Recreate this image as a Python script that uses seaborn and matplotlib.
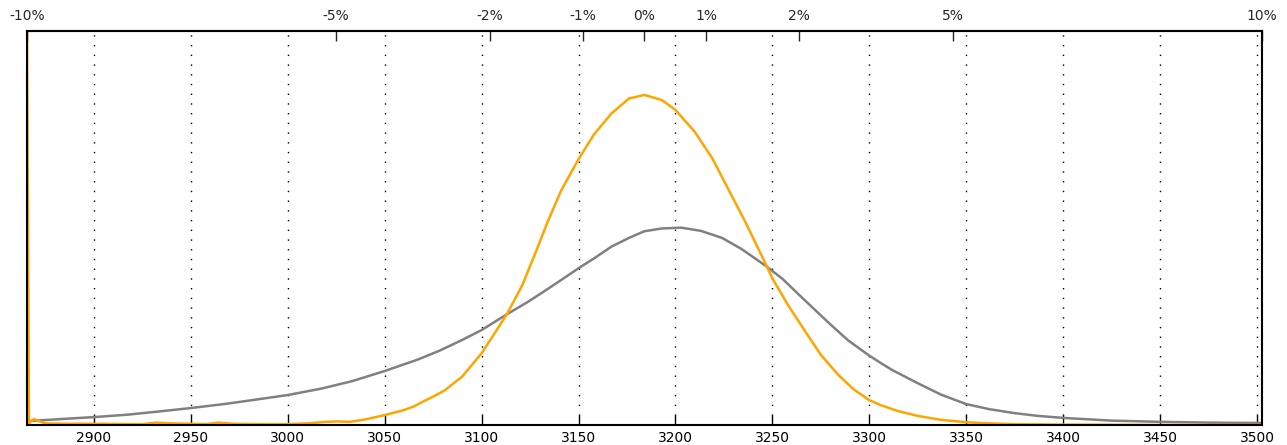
"""Density curves around a reference value, with a % offset axis on top."""
import matplotlib

matplotlib.use("Agg")
import matplotlib.pyplot as plt
import seaborn as sns

sns.set_style("ticks")
plt.rcParams["font.family"] = ["DejaVu Sans"]

BASE = 3184.0

# grey curve (wide, peak near 3203)
gray_x = [2866, 2883, 2900, 2917, 2933, 2950, 2967, 2983, 3000, 3017, 3033, 3050,
          3067, 3078, 3090, 3100, 3113, 3124, 3134, 3141, 3150, 3158, 3167, 3176,
          3184, 3193, 3203, 3213, 3224, 3234, 3246, 3255, 3263, 3272, 3280, 3289,
          3300, 3306, 3312, 3325, 3337, 3350, 3362, 3375, 3387, 3400, 3425, 3450,
          3475, 3503]
gray_y = [0.010, 0.015, 0.020, 0.026, 0.034, 0.043, 0.053, 0.064, 0.076, 0.092,
          0.111, 0.137, 0.166, 0.188, 0.216, 0.241, 0.281, 0.313, 0.345, 0.368,
          0.398, 0.423, 0.453, 0.475, 0.492, 0.499, 0.501, 0.493, 0.475, 0.447,
          0.406, 0.372, 0.334, 0.292, 0.255, 0.215, 0.176, 0.157, 0.139, 0.106,
          0.077, 0.053, 0.040, 0.030, 0.023, 0.018, 0.011, 0.008, 0.006, 0.005]

# orange curve (narrow, peak near 3184)
orange_x = [2865, 2866.5, 2869, 2875, 2885, 2900, 2925, 2932, 2940, 2950, 2958,
            2964, 2972, 2985, 3000, 3010, 3020, 3026, 3032, 3040, 3050, 3060,
            3065, 3070, 3075, 3081, 3090, 3100, 3107, 3113, 3121, 3128, 3134,
            3141, 3150, 3158, 3167, 3176, 3184, 3193, 3200, 3210, 3219, 3227,
            3236, 3246, 3250, 3258, 3267, 3275, 3284, 3292, 3300, 3306, 3315,
            3325, 3337, 3350, 3362, 3375, 3400, 3450, 3503]
orange_y = [1.5, 0.004, 0.015, 0.004, 0.003, 0.003, 0.002, 0.006, 0.004, 0.003,
            0.002, 0.006, 0.003, 0.002, 0.002, 0.004, 0.008, 0.009, 0.008, 0.014,
            0.025, 0.038, 0.047, 0.060, 0.072, 0.088, 0.123, 0.182, 0.235, 0.281,
            0.355, 0.440, 0.515, 0.595, 0.675, 0.738, 0.791, 0.829, 0.838, 0.825,
            0.800, 0.744, 0.677, 0.601, 0.516, 0.414, 0.372, 0.305, 0.237, 0.178,
            0.127, 0.090, 0.063, 0.050, 0.035, 0.023, 0.013, 0.007, 0.004, 0.002,
            0.001, 0.0, 0.0]

bottom_ticks = [2900, 2950, 3000, 3050, 3100, 3150, 3200, 3250, 3300, 3350,
                3400, 3450, 3500]
pct_ticks = [-10, -5, -2.5, -1, 0, 1, 2.5, 5, 10]
pct_labels = ["-10%", "-5%", "-2%", "-1%", "0%", "1%", "2%", "5%", "10%"]


def to_pct(x):
    return (x / BASE - 1.0) * 100.0


def from_pct(p):
    return BASE * (1.0 + p / 100.0)


def main():
    fig = plt.figure(figsize=(12.87, 4.45), dpi=100)
    ax = fig.add_axes([0.021, 0.045, 0.9595, 0.885])

    sns.lineplot(x=gray_x, y=gray_y, color="grey", linewidth=1.8,
                 estimator=None, sort=False, ax=ax)
    sns.lineplot(x=orange_x, y=orange_y, color="orange", linewidth=1.8,
                 estimator=None, sort=False, ax=ax)

    ax.set_xlim(2865.5, 3502.5)
    ax.set_ylim(0, 1)
    ax.set_yticks([])
    ax.set_xticks(bottom_ticks)
    ax.tick_params(axis="x", direction="in", length=7, width=1, pad=4,
                   labelsize=10, colors="black")
    ax.grid(axis="x", color="black", linestyle=(0, (1, 6)), linewidth=1)
    ax.grid(axis="y", visible=False)

    for sp in ax.spines.values():
        sp.set_visible(True)
        sp.set_linewidth(1.5)
        sp.set_color("black")

    top = ax.secondary_xaxis("top", functions=(to_pct, from_pct))
    top.set_xticks(pct_ticks)
    top.set_xticklabels(pct_labels)
    top.tick_params(direction="in", length=7, width=1, pad=6, labelsize=10)
    top.spines["top"].set_linewidth(1.5)

    fig.savefig("out.png", dpi=100)
    plt.close(fig)


if __name__ == "__main__":
    main()
